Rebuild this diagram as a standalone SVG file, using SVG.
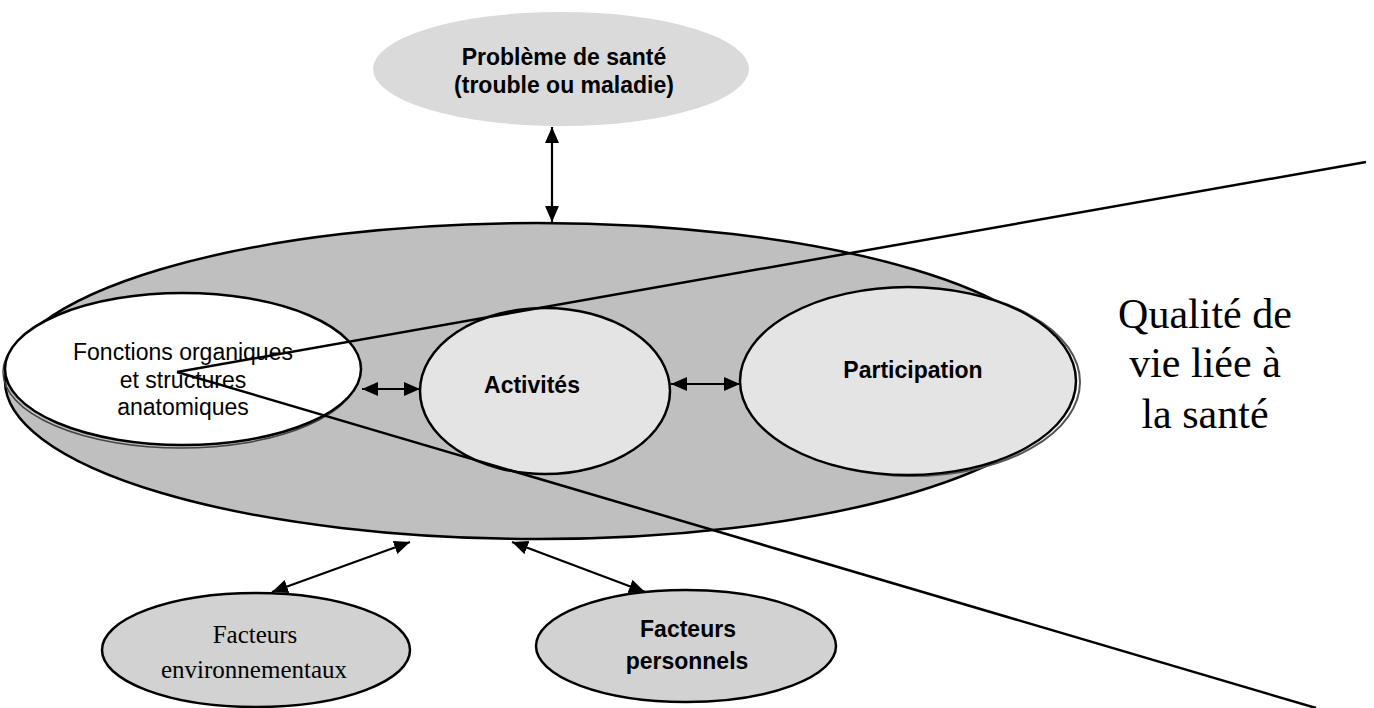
<svg xmlns="http://www.w3.org/2000/svg" width="1374" height="708" viewBox="0 0 1374 708">
<style>
.bd{stroke:#000;stroke-width:2.5}
.sans{font-family:"Liberation Sans",Arial,sans-serif;font-size:23px;fill:#000;text-anchor:middle}
.b{font-weight:bold}
.serif{font-family:"Liberation Serif","Times New Roman",serif;fill:#000;text-anchor:middle}
.conn{stroke:#000;stroke-width:2.2;fill:none}
.ln{stroke:#000;stroke-width:2.5;fill:none}
</style>
<defs>
<marker id="ah" viewBox="0 0 16 14" refX="16" refY="7" markerWidth="16" markerHeight="14" markerUnits="userSpaceOnUse" orient="auto-start-reverse">
<path d="M0,0 L16,7 L0,14 z" fill="#000"/>
</marker>
</defs>
<rect width="1374" height="708" fill="#fff"/>
<g id="sante">
<ellipse cx="561" cy="69" rx="188" ry="57" fill="#dadada"/>
<text class="sans b" x="564" y="65">Problème de santé</text>
<text class="sans b" x="564" y="93">(trouble ou maladie)</text>
</g>
<g id="cadre">
<ellipse cx="537" cy="381" rx="532" ry="158" fill="#bfbfbf" class="bd"/>
</g>
<g id="fonctions">
<ellipse cx="181" cy="372" rx="178" ry="76" fill="none" stroke="#444" stroke-width="1.5"/>
<ellipse cx="183" cy="369" rx="178" ry="76" fill="#fff" class="bd"/>
<text class="sans" x="183" y="360">Fonctions organiques</text>
<text class="sans" x="183" y="388">et structures</text>
<text class="sans" x="183" y="415">anatomiques</text>
</g>
<g id="activites">
<ellipse cx="545" cy="391" rx="125" ry="83" fill="#e4e4e4" class="bd"/>
<text class="sans b" x="532" y="393">Activités</text>
</g>
<g id="participation">
<ellipse cx="912" cy="382" rx="168" ry="94" fill="none" stroke="#555" stroke-width="2"/>
<ellipse cx="908" cy="381" rx="168" ry="94" fill="#e4e4e4" class="bd"/>
<text class="sans b" x="913" y="378">Participation</text>
</g>
<g id="env">
<ellipse cx="256" cy="650" rx="154" ry="57" fill="#d2d2d2" class="bd"/>
<text class="serif" x="255" y="643" font-size="25">Facteurs</text>
<text class="serif" x="254" y="678" font-size="25">environnementaux</text>
</g>
<g id="perso">
<ellipse cx="686" cy="646" rx="150" ry="56" fill="#d2d2d2" class="bd"/>
<text class="sans b" x="688" y="637">Facteurs</text>
<text class="sans b" x="687" y="669">personnels</text>
</g>
<g id="qualite">
<text class="serif" x="1205" y="328" font-size="42">Qualité de</text>
<text class="serif" x="1205" y="377" font-size="42">vie liée à</text>
<text class="serif" x="1205" y="428" font-size="42">la santé</text>
</g>
<g id="connectors">
<line class="conn" x1="552" y1="127" x2="552" y2="222" marker-start="url(#ah)" marker-end="url(#ah)"/>
<line class="conn" x1="362" y1="389" x2="420" y2="389" marker-start="url(#ah)" marker-end="url(#ah)"/>
<line class="conn" x1="671" y1="384" x2="740" y2="384" marker-start="url(#ah)" marker-end="url(#ah)"/>
<line class="conn" x1="410" y1="542" x2="272" y2="592" marker-start="url(#ah)" marker-end="url(#ah)"/>
<line class="conn" x1="512" y1="542" x2="645" y2="592" marker-start="url(#ah)" marker-end="url(#ah)"/>
<line class="ln" x1="177" y1="372" x2="1366" y2="162"/>
<line class="ln" x1="177" y1="372" x2="1316" y2="708"/>
</g>
</svg>
